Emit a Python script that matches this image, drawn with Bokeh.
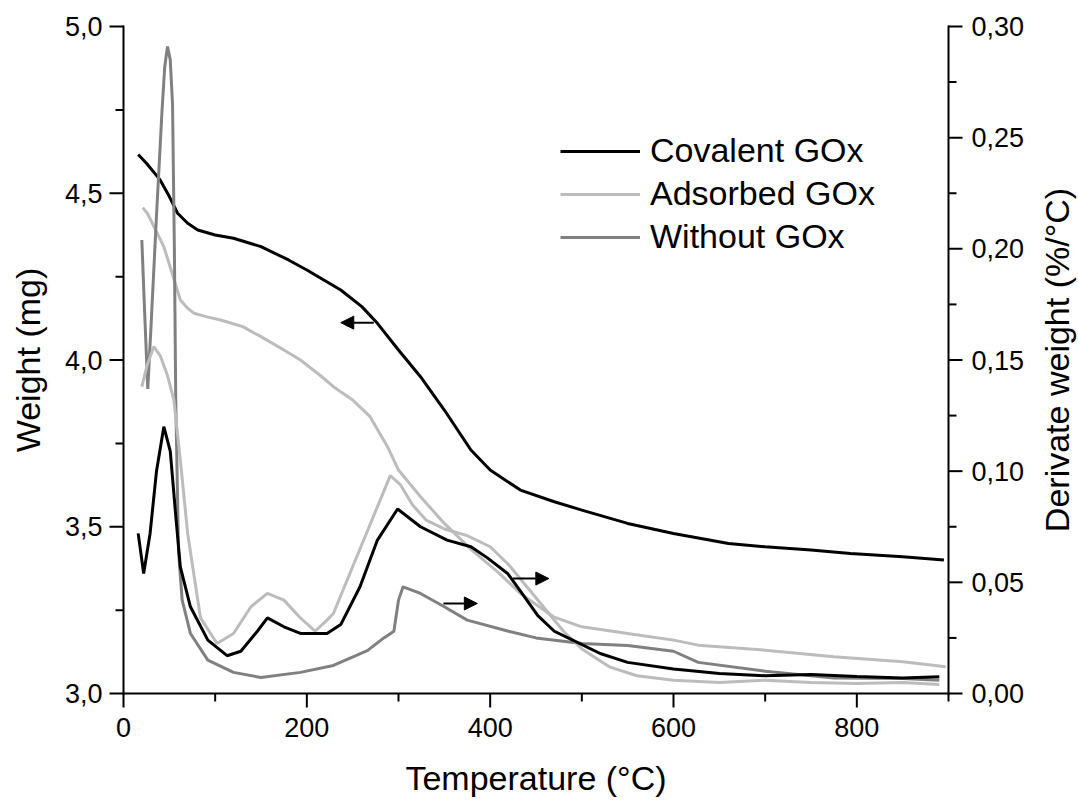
import math
from bokeh.plotting import figure
from bokeh.models import (Range1d, Legend, LegendItem, Arrow, NormalHead, ColumnDataSource,
                          Label, LabelSet)
from bokeh.core.properties import value
from bokeh.embed import file_html
from bokeh.resources import INLINE

# ---------------- data ----------------
# TGA weight (mg), left axis
cov_tga_T = [16, 25, 40, 50, 59, 70, 81, 100, 120, 150, 180, 200, 237, 260, 277, 300, 324, 350,
             379, 400, 433, 470, 500, 550, 600, 660, 700, 750, 793, 850, 895]
cov_tga_w = [4.616, 4.59, 4.54, 4.49, 4.44, 4.41, 4.39, 4.375, 4.365, 4.34, 4.30, 4.27, 4.21, 4.16,
             4.11, 4.03, 3.95, 3.85, 3.73, 3.67, 3.61, 3.575, 3.55, 3.51, 3.48, 3.45, 3.44, 3.43,
             3.42, 3.41, 3.40]

ads_tga_T = [21, 26, 35, 44, 53, 62, 70, 77, 90, 106, 130, 150, 175, 193, 214, 229, 250, 269, 288,
             300, 324, 350, 380, 410, 433, 469, 500, 550, 600, 627, 700, 775, 850, 897]
ads_tga_w = [4.457, 4.44, 4.39, 4.34, 4.26, 4.18, 4.155, 4.14, 4.13, 4.12, 4.10, 4.07, 4.03, 4.00,
             3.955, 3.92, 3.88, 3.83, 3.74, 3.67, 3.59, 3.51, 3.43, 3.36, 3.30, 3.23, 3.20, 3.18,
             3.16, 3.145, 3.13, 3.11, 3.095, 3.08]

# DTG derivative weight (%/°C), right axis
cov_dtg_T = [16, 22, 29, 36, 44, 51, 57, 62, 73, 92, 113, 128, 146, 157, 175, 193, 222, 237, 258,
             277, 299, 324, 353, 379, 397, 419, 433, 452, 470, 490, 520, 550, 600, 650, 700, 750,
             800, 850, 890]
cov_dtg_d = [0.072, 0.054, 0.072, 0.100, 0.120, 0.109, 0.080, 0.057, 0.039, 0.024, 0.017, 0.019,
             0.028, 0.034, 0.030, 0.027, 0.027, 0.031, 0.048, 0.069, 0.083, 0.075, 0.069, 0.066,
             0.061, 0.054, 0.046, 0.035, 0.028, 0.024, 0.018, 0.014, 0.011, 0.009, 0.008, 0.0085,
             0.0077, 0.007, 0.0075]

ads_dtg_T = [20, 26, 33, 40, 48, 55, 62, 70, 84, 102, 120, 139, 157, 175, 193, 209, 222, 229, 251,
             268, 280, 291, 302, 315, 330, 350, 375, 400, 420, 440, 460, 480, 500, 530, 560, 600,
             650, 700, 750, 800, 850, 890]
ads_dtg_d = [0.138, 0.148, 0.156, 0.152, 0.143, 0.132, 0.105, 0.072, 0.034, 0.0225, 0.027, 0.039,
             0.045, 0.042, 0.034, 0.028, 0.033, 0.036, 0.058, 0.075, 0.087, 0.098, 0.094, 0.085,
             0.078, 0.074, 0.071, 0.066, 0.058, 0.048, 0.038, 0.028, 0.020, 0.012, 0.008, 0.006,
             0.005, 0.006, 0.005, 0.0045, 0.005, 0.004]

wo_dtg_T = [20, 23, 26.5, 30, 36, 42, 45, 48, 51, 53.5, 55.5, 57, 60, 64, 73, 92, 120, 150, 193,
            229, 266, 284, 295, 300, 305, 324, 350, 375, 420, 450, 500, 550, 600, 627, 700, 775,
            850, 890]
wo_dtg_d = [0.204, 0.172, 0.137, 0.165, 0.215, 0.262, 0.282, 0.291, 0.285, 0.265, 0.200, 0.132,
            0.064, 0.042, 0.027, 0.015, 0.0095, 0.0072, 0.0095, 0.0126, 0.0193, 0.025, 0.028,
            0.042, 0.048, 0.045, 0.039, 0.033, 0.028, 0.025, 0.0225, 0.0216, 0.019, 0.014, 0.010,
            0.007, 0.0067, 0.006]

series_labels = ["Covalent GOx", "Adsorbed GOx", "Without GOx"]
series_colors = ["#000000", "#bcbcbc", "#808080"]

x_ticks = [0, 200, 400, 600, 800]
x_tick_labels = ["0", "200", "400", "600", "800"]
x_minor = [100, 300, 500, 700, 900]
wl_ticks = [3.0, 3.5, 4.0, 4.5, 5.0]
wl_tick_labels = ["3,0", "3,5", "4,0", "4,5", "5,0"]
wl_minor = [3.25, 3.75, 4.25, 4.75]
d_ticks = [0.0, 0.05, 0.10, 0.15, 0.20, 0.25, 0.30]
d_tick_labels = ["0,00", "0,05", "0,10", "0,15", "0,20", "0,25", "0,30"]
d_minor = [0.025, 0.075, 0.125, 0.175, 0.225, 0.275]

x_title = "Temperature (°C)"
yl_title = "Weight (mg)"
yr_title = "Derivate weight (%/°C)"

# arrows: (x_start, x_end, y)
arrow_left = (273, 237, 4.112)
arrow_right1 = (425, 464, 0.0517)
arrow_right2 = (349, 386, 0.0405)

FONT = "Liberation Sans"

# ---------------- layout (pixels) ----------------
W, H = 1078, 803
AX_L, AX_R, AX_T, AX_B = 123, 948, 26, 693     # axis box
X0, X1 = 0, 900
WL0, WL1 = 3, 5
D0, D1 = 0, 0.3
ppx = (AX_R - AX_L) / (X1 - X0)
ppy_w = (AX_B - AX_T) / (WL1 - WL0)
ppy_d = (AX_B - AX_T) / (D1 - D0)
MAJ, MIN, AXW = 14, 8, 2
LBL_GAP = 21


def px_x(sx):          # screen x -> data x
    return X0 + (sx - AX_L) / ppx


def px_w(sy):          # screen y -> weight
    return WL0 + (AX_B - sy) / ppy_w


def px_d(sy):          # screen y -> derivative
    return D0 + (AX_B - sy) / ppy_d


# the frame covers the whole canvas; axes are drawn by hand so nothing gets clipped
p = figure(width=W, height=H, x_range=Range1d(px_x(0), px_x(W)),
           y_range=Range1d(px_w(H), px_w(0)),
           output_backend="svg", toolbar_location=None,
           x_axis_location=None, y_axis_location=None,
           min_border_left=0, min_border_right=0, min_border_top=0, min_border_bottom=0)
p.extra_y_ranges = {"d": Range1d(px_d(H), px_d(0))}
p.grid.visible = False
p.outline_line_color = None
p.background_fill_color = "white"
p.border_fill_color = "white"

hx = (AXW / 2) / ppx
hw = (AXW / 2) / ppy_w
hd = (AXW / 2) / ppy_d

# axis lines (thin filled rectangles)
p.quad(left=[X0 - hx, X0 - hx], right=[X1 + hx, X0 + hx], bottom=[WL0 - hw, WL0 - hw],
       top=[WL0 + hw, WL1 + hw], fill_color="black", line_color=None)
p.quad(left=[X1 - hx], right=[X1 + hx], bottom=[D0 - hd], top=[D1 + hd],
       fill_color="black", line_color=None, y_range_name="d")

# ticks
for ticks, L in ((x_ticks, MAJ), (x_minor, MIN)):
    p.quad(left=[t - hx for t in ticks], right=[t + hx for t in ticks],
           bottom=[WL0 - L / ppy_w] * len(ticks), top=[WL0] * len(ticks),
           fill_color="black", line_color=None)
for ticks, L in ((wl_ticks, MAJ), (wl_minor, MIN)):
    p.quad(left=[X0 - L / ppx] * len(ticks), right=[X0] * len(ticks),
           bottom=[t - hw for t in ticks], top=[t + hw for t in ticks],
           fill_color="black", line_color=None)
for ticks, L in ((d_ticks, MAJ), (d_minor, MIN)):
    p.quad(left=[X1] * len(ticks), right=[X1 + L / ppx] * len(ticks),
           bottom=[t - hd for t in ticks], top=[t + hd for t in ticks],
           fill_color="black", line_color=None, y_range_name="d")

# tick labels
tick_font = dict(text_font=value(FONT), text_font_size=value("27px"), text_color="black")
p.add_layout(LabelSet(x="x", y="y", text="t",
                      source=ColumnDataSource(dict(x=x_ticks, y=[px_w(AX_B + 34)] * len(x_ticks),
                                                   t=x_tick_labels)),
                      text_align="center", text_baseline="middle", **tick_font))
p.add_layout(LabelSet(x="x", y="y", text="t",
                      source=ColumnDataSource(dict(x=[px_x(AX_L - LBL_GAP)] * len(wl_ticks),
                                                   y=wl_ticks, t=wl_tick_labels)),
                      text_align="right", text_baseline="middle", **tick_font))
p.add_layout(LabelSet(x="x", y="y", text="t", y_range_name="d",
                      source=ColumnDataSource(dict(x=[px_x(AX_R + LBL_GAP + 2)] * len(d_ticks),
                                                   y=d_ticks, t=d_tick_labels)),
                      text_align="left", text_baseline="middle", **tick_font))

# axis titles (anchored at the middle of their text box)
title_font = dict(text_font=FONT, text_font_size="34px", text_color="black")
p.add_layout(Label(x=(X0 + X1) / 2, y=px_w(777), text=x_title, text_align="center",
                   text_baseline="middle", **title_font))
p.add_layout(Label(x=px_x(27), y=(WL0 + WL1) / 2, text=yl_title, angle=math.pi / 2,
                   text_align="center", text_baseline="middle", **title_font))
p.add_layout(Label(x=px_x(1056), y=(D0 + D1) / 2, y_range_name="d", text=yr_title,
                   angle=math.pi / 2, text_align="center", text_baseline="middle",
                   **title_font))

LW = 3
# TGA curves
p.line(cov_tga_T, cov_tga_w, line_color=series_colors[0], line_width=LW)
p.line(ads_tga_T, ads_tga_w, line_color=series_colors[1], line_width=LW)
# DTG curves
r_wo = p.line(wo_dtg_T, wo_dtg_d, line_color=series_colors[2], line_width=LW, y_range_name="d")
r_ads = p.line(ads_dtg_T, ads_dtg_d, line_color=series_colors[1], line_width=LW, y_range_name="d")
r_cov = p.line(cov_dtg_T, cov_dtg_d, line_color=series_colors[0], line_width=LW, y_range_name="d")

legend = Legend(items=[LegendItem(label=series_labels[0], renderers=[r_cov]),
                       LegendItem(label=series_labels[1], renderers=[r_ads]),
                       LegendItem(label=series_labels[2], renderers=[r_wo])],
                location=(560, H - 256),
                glyph_width=80, glyph_height=34, label_height=34,
                label_standoff=10, spacing=4, padding=0, margin=0,
                border_line_alpha=0, background_fill_alpha=0,
                label_text_font=FONT, label_text_font_size="34px", label_text_color="black")
p.add_layout(legend)

head = dict(size=13, fill_color="black", line_color="black")
p.add_layout(Arrow(end=NormalHead(**head), x_start=arrow_left[0], x_end=arrow_left[1],
                   y_start=arrow_left[2], y_end=arrow_left[2], line_width=2))
for a in (arrow_right1, arrow_right2):
    p.add_layout(Arrow(end=NormalHead(**head), x_start=a[0], x_end=a[1], y_start=a[2],
                       y_end=a[2], line_width=2, y_range_name="d"))

open("out.html", "w").write(file_html(p, INLINE))
